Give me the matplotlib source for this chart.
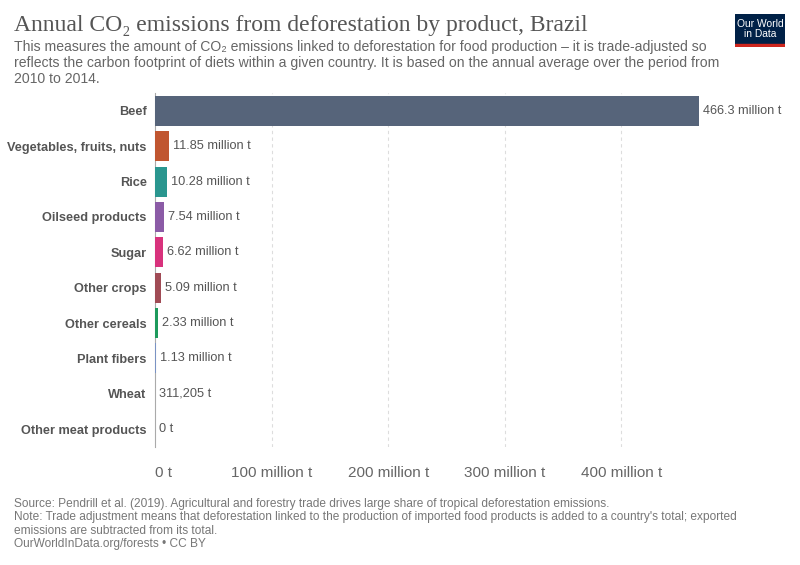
import matplotlib.pyplot as plt
from matplotlib.patches import Rectangle
from matplotlib.ticker import FixedLocator

# values in million tonnes CO2
products = ["Beef", "Vegetables, fruits, nuts", "Rice", "Oilseed products", "Sugar",
            "Other crops", "Other cereals", "Plant fibers", "Wheat", "Other meat products"]
emissions = [466.3, 11.85, 10.28, 7.54, 6.62, 5.09, 2.33, 1.13, 0.311205, 0.0]
value_labels = ["466.3 million t", "11.85 million t", "10.28 million t", "7.54 million t",
                "6.62 million t", "5.09 million t", "2.33 million t", "1.13 million t",
                "311,205 t", "0 t"]
bar_colors = ["#56647a", "#c05630", "#2a968f", "#8b5ba6", "#d8327c",
              "#a04b55", "#1d9a5c", "#7a93c4", "#c48a5a", "#999999"]
x_ticks = [0, 100, 200, 300, 400]
x_tick_labels = ["0 t", "100 million t", "200 million t", "300 million t", "400 million t"]

W, H = 800, 565
fig = plt.figure(figsize=(W / 100, H / 100), dpi=100)

x0, x1 = 155, 155 + 470 * 1.166
y_top, y_bot = 93.3, 446.7
ax = fig.add_axes([x0 / W, 1 - y_bot / H, (x1 - x0) / W, (y_bot - y_top) / H])

rows = list(range(len(products)))
ax.barh(rows, emissions, height=0.85, color=bar_colors, linewidth=0, zorder=3)
ax.set_ylim(len(products) - 0.5, -0.5)
ax.set_xlim(0, 470)

for r, v, lab in zip(rows, emissions, value_labels):
    ax.text(v + 3.5, r, lab, va="center", ha="left", fontsize=9.2,
            color="#555555", family="Liberation Sans")

ax.set_yticks(rows)
ax.set_yticklabels(products, fontsize=9.2, fontweight="bold", color="#555555", family="Liberation Sans")
ax.tick_params(axis="y", length=0, pad=6)
ax.xaxis.set_major_locator(FixedLocator(x_ticks))
ax.set_xticklabels(x_tick_labels, fontsize=11, color="#666666", family="Liberation Sans")
ax.tick_params(axis="x", length=0, pad=14)
for i, lbl in enumerate(ax.get_xticklabels()):
    lbl.set_horizontalalignment("left" if i == 0 else "center")
for t in x_ticks[1:]:
    ax.axvline(t, color="#dddddd", linestyle=(0, (3, 3)), linewidth=0.8, zorder=1)
for s in ["top", "right", "bottom"]:
    ax.spines[s].set_visible(False)
ax.spines["left"].set_color("#aaaaaa")
ax.spines["left"].set_linewidth(0.8)
ax.spines["left"].set_zorder(2)

fig.text(14 / W, 1 - 25 / H, "Annual CO\u2082 emissions from deforestation by product, Brazil",
         fontsize=17, color="#555555", family="Liberation Serif", va="center")
fig.text(14 / W, 1 - 40 / H,
         "This measures the amount of CO\u2082 emissions linked to deforestation for food production \u2013 it is trade-adjusted so\n"
         "reflects the carbon footprint of diets within a given country. It is based on the annual average over the period from\n"
         "2010 to 2014.",
         fontsize=10.1, color="#666666", family="Liberation Sans", va="top", linespacing=1.2)

fig.text(14 / W, 1 - 498 / H,
         "Source: Pendrill et al. (2019). Agricultural and forestry trade drives large share of tropical deforestation emissions.\n"
         "Note: Trade adjustment means that deforestation linked to the production of imported food products is added to a country's total; exported\n"
         "emissions are subtracted from its total.\n"
         "OurWorldInData.org/forests \u2022 CC BY",
         fontsize=8.6, color="#777777", family="Liberation Sans", va="top", linespacing=1.15)

# logo
logo_ax = fig.add_axes([735 / W, 1 - 47 / H, 50 / W, 33 / H])
logo_ax.set_xlim(0, 1)
logo_ax.set_ylim(0, 1)
logo_ax.axis("off")
logo_ax.add_patch(Rectangle((0, 0.1), 1, 0.9, color="#002147"))
logo_ax.add_patch(Rectangle((0, 0), 1, 0.1, color="#ce261e"))
logo_ax.text(0.5, 0.55, "Our World\nin Data", ha="center", va="center", color="white",
             fontsize=7.4, family="Liberation Sans", linespacing=1.05)

fig.savefig("out.png", dpi=100)
